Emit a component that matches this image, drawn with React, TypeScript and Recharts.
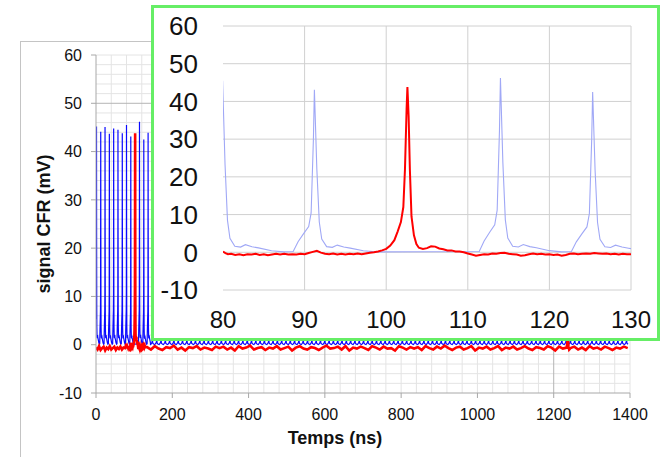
import { LineChart, Line, XAxis, YAxis, CartesianGrid } from "recharts";

type Pt = { t: number; v: number };

// axes
const mainXTicks = [0, 200, 400, 600, 800, 1000, 1200, 1400];
const mainYTicks = [-10, 0, 10, 20, 30, 40, 50, 60];
const insetXTicks = [80, 90, 100, 110, 120, 130];
const insetYTicks = [-10, 0, 10, 20, 30, 40, 50, 60];

// blue trace: the big laser pulses (ns, mV)
const bluePeakTimes = [1.3, 12.4, 23.7, 35.0, 46.3, 57.6, 68.9, 79.95, 91.2, 114.0, 125.3, 136.6];
const bluePeakValues = [45.2, 44.1, 45.1, 43.7, 44.8, 44.5, 43.8, 45.5, 43.1, 46.2, 42.5, 43.9];

// shape of one pulse (for a 43 mV pulse)
const pulseOffsets = [-2.6, -2.0, -1.3, -0.7, -0.4, -0.12, 0, 0.3, 0.6, 0.9, 1.5, 2.2, 2.8, 3.6, 4.4, 6.0, 7.5];
const pulseShape = [0.2, 2.8, 5.0, 6.8, 10.4, 30, 43, 22, 8, 3.5, 1.5, 1.3, 1.9, 1.4, 1.1, 0.4, 0.1];

// small pulses left after 140 ns
const tailPulseTimes = [
  147.9, 159.2, 170.5, 181.8, 193.1, 204.4, 215.7, 227.0, 238.3, 249.6,
  260.9, 272.2, 283.5, 294.8, 306.1, 317.4, 328.7, 340.0, 351.3, 362.6,
  373.9, 385.2, 396.5, 407.8, 419.1, 430.4, 441.7, 453.0, 464.3, 475.6,
  486.9, 498.2, 509.5, 520.8, 532.1, 543.4, 554.7, 566.0, 577.3, 588.6,
  599.9, 611.2, 622.5, 633.8, 645.1, 656.4, 667.7, 679.0, 690.3, 701.6,
  712.9, 724.2, 735.5, 746.8, 758.1, 769.4, 780.7, 792.0, 803.3, 814.6,
  825.9, 837.2, 848.5, 859.8, 871.1, 882.4, 893.7, 905.0, 916.3, 927.6,
  938.9, 950.2, 961.5, 972.8, 984.1, 995.4, 1006.7, 1018.0, 1029.3, 1040.6,
  1051.9, 1063.2, 1074.5, 1085.8, 1097.1, 1108.4, 1119.7, 1131.0, 1142.3, 1153.6,
  1164.9, 1176.2, 1187.5, 1198.8, 1210.1, 1221.4, 1232.7, 1244.0, 1255.3, 1266.6,
  1277.9, 1289.2, 1300.5, 1311.8, 1323.1, 1334.4, 1345.7, 1357.0, 1368.3, 1379.6,
  1390.9,
];
const tailPeak = 1.3;
const tailOffsets = [-5.0, -1.0, 0, 1.0, 4.0];
const tailShape = [0.05, 0.5, 1.3, 0.3, 0.1];

// red trace
const redEarlyStart = 0;
const redEarlyStep = 4;
const redEarlyValues = [
  -0.6, -1.0, -0.3, -1.1, -0.7, -0.4, -1.2, -0.6, -0.9, -0.3,
  -1.0, -0.7, -0.4, -1.1, -0.6, -0.9, -0.4, -1.0, -0.6, -0.7,
];
const redZoomed: [number, number][] = [
  [80.0, 0.2], [80.3, -0.2], [80.6, -0.5], [81.0, -0.4], [81.5, -0.7], [82.0, -0.5], [82.5, -0.8],
  [83.0, -0.5], [83.5, -0.6], [84.0, -0.4], [84.5, -0.7], [85.0, -0.5], [85.5, -0.8], [86.0, -0.6],
  [86.5, -0.4], [87.0, -0.6], [87.5, -0.4], [88.0, -0.6], [88.5, -0.5], [89.0, -0.6], [89.5, -0.4],
  [90.0, -0.5], [90.5, -0.2], [91.0, 0.1], [91.5, 0.4], [92.0, -0.1], [92.5, -0.4], [93.0, -0.5],
  [93.5, -0.3], [94.0, -0.6], [94.5, -0.4], [95.0, -0.6], [95.5, -0.4], [96.0, -0.5], [96.5, -0.3],
  [97.0, -0.5], [97.5, -0.3], [98.0, -0.1], [98.5, 0.0], [99.0, 0.2], [99.5, 0.5], [100.0, 0.9],
  [100.5, 1.8], [101.0, 3.2], [101.4, 5.5], [101.8, 8.0], [102.1, 12], [102.3, 22], [102.5, 38],
  [102.6, 43.8], [102.75, 36], [102.9, 22], [103.1, 9.5], [103.4, 4.5], [103.7, 2.2], [104.0, 1.2],
  [104.5, 0.9], [105.0, 1.1], [105.5, 1.6], [106.0, 1.5], [106.5, 1.0], [107.0, 0.8], [107.5, 0.5],
  [108.0, 0.5], [108.5, 0.2], [109.0, 0.2], [109.5, 0.0], [110.0, -0.3], [110.5, -0.6], [111.0, -0.9],
  [111.5, -0.7], [112.0, -0.5], [112.5, -0.6], [113.0, -0.3], [113.5, -0.4], [114.0, -0.2], [114.5, -0.1],
  [115.0, -0.4], [115.5, -0.5], [116.0, -0.6], [116.5, -0.9], [117.0, -0.8], [117.5, -0.5], [118.0, -0.3],
  [118.5, -0.5], [119.0, -0.4], [119.5, -0.6], [120.0, -0.5], [120.5, -0.7], [121.0, -0.6], [121.5, -0.9],
  [122.0, -0.7], [122.5, -0.4], [123.0, -0.3], [123.5, -0.5], [124.0, -0.4], [124.5, -0.3], [125.0, -0.4],
  [125.5, -0.2], [126.0, -0.3], [126.5, -0.4], [127.0, -0.3], [127.5, -0.5], [128.0, -0.4], [128.5, -0.6],
  [129.0, -0.4], [129.5, -0.5], [130.0, -0.5],
];
const redLateStart = 134;
const redLateStep = 10;
const redLateValues = [
  -0.5, -1.0, -0.3, -0.8, -1.1, -0.5, -0.7, -0.2, -1.0, -0.6,
  -1.2, -0.5, -0.7, -0.3, -1.0, -0.6, -0.8, -1.1, -0.4, -0.7,
  -0.4, -1.0, -0.6, -1.2, -0.3, -0.8, -0.6, -0.2, -1.0, -0.7,
  -0.5, -1.1, -0.6, -0.8, -0.3, -1.0, -0.7, -0.4, -1.2, -0.6,
  -0.3, -0.8, -1.0, -0.5, -0.7, -1.1, -0.6, -0.2, -0.8, -0.7,
  -0.4, -1.0, -0.3, -1.2, -0.6, -0.8, -0.4, -0.7, -1.1, -0.3,
  -0.6, -1.0, -0.4, -0.8, -0.7, -1.2, -0.3, -0.6, -1.0, -0.5,
  -0.8, -0.5, -1.1, -0.3, -0.7, -1.0, -0.4, -0.8, -0.2, -0.7,
  -1.1, -0.6, -0.4, -1.0, -0.7, -0.3, -1.2, -0.6, -0.8, -0.4,
  -1.0, -0.7, -0.3, -1.1, -0.6, -0.8, -0.4, -1.0, -0.7, -0.3,
  -0.8, -1.1, -0.5, -0.7, -1.0, -0.3, -0.6, -1.2, -0.4, -0.8,
  -0.6, -0.7, -0.4, -1.0, -0.6, -1.1, -0.3, -0.8, -0.6, -1.0,
  -0.4, -0.7, -1.1, -0.6, -0.8, -0.4, -0.7,
];
const redBump: [number, number][] = [[1235.5, 0.3], [1237, 1.6], [1238.5, -0.3], [1240.5, -1.0]];

function pulses(times: number[], peaks: number[], offsets: number[], shape: number[]): Pt[] {
  const ref = Math.max(...shape);
  const out: Pt[] = [];
  times.forEach((t0, i) => {
    offsets.forEach((o, j) => out.push({ t: t0 + o, v: (shape[j] * peaks[i]) / ref }));
  });
  return out;
}

const byT = (a: Pt, b: Pt) => a.t - b.t;

const blueData: Pt[] = [
  ...pulses(bluePeakTimes, bluePeakValues, pulseOffsets, pulseShape),
  ...pulses(tailPulseTimes, tailPulseTimes.map(() => tailPeak), tailOffsets, tailShape),
]
  .filter((p) => p.t >= 0 && p.t <= 1400)
  .sort(byT);

const redData: Pt[] = [
  ...redEarlyValues.map((v, i) => ({ t: redEarlyStart + i * redEarlyStep, v })),
  ...redZoomed.map(([t, v]) => ({ t, v })),
  ...redLateValues.map((v, i) => ({ t: redLateStart + i * redLateStep, v })),
  ...redBump.map(([t, v]) => ({ t, v })),
].sort(byT);

const blueInset = blueData.filter((p) => p.t >= 77 && p.t <= 133);
const redInset = redData.filter((p) => p.t >= 77 && p.t <= 133);

const minorX = Array.from({ length: 35 }, (_, i) => 40 + i * 40).filter((x) => x % 600 !== 0);
const minorY = Array.from({ length: 35 }, (_, i) => -8 + i * 2).filter((y) => y % 10 !== 0 || y === 60);

const font = "'Liberation Sans', Arial, sans-serif";

export default function App() {
  return (
    <div
      style={{
        position: "absolute",
        left: 0,
        top: 0,
        width: 660,
        height: 457,
        overflow: "hidden",
        background: "#fff",
        fontFamily: font,
      }}
    >
      {/* frame of the main chart */}
      <div
        style={{
          position: "absolute",
          left: 20,
          top: 41,
          width: 700,
          height: 500,
          border: "1px solid #c4c4c4",
        }}
      />
      <div style={{ position: "absolute", left: 0, top: 0 }}>
        <LineChart width={660} height={457} margin={{ top: 55, right: 30, bottom: 34, left: 36 }}>
          <CartesianGrid
            horizontalValues={minorY}
            verticalValues={minorX}
            stroke="#e4e4e4"
            strokeWidth={1}
          />
          <CartesianGrid
            horizontalValues={[10, 20, 30, 40, 50]}
            verticalValues={[600, 1200]}
            stroke="#b4b4b4"
            strokeWidth={1}
          />
          <XAxis
            type="number"
            dataKey="t"
            domain={[0, 1400]}
            ticks={mainXTicks}
            interval={0}
            allowDataOverflow
            height={30}
            stroke="#a8a8a8"
            tickSize={5}
            tickMargin={11}
            tick={{ fill: "#111", fontSize: 16 }}
          />
          <YAxis
            type="number"
            domain={[-10, 60]}
            ticks={mainYTicks}
            interval={0}
            allowDataOverflow
            width={60}
            stroke="#a8a8a8"
            tickSize={5}
            tickMargin={9}
            tick={{ fill: "#111", fontSize: 16 }}
          />
          <Line
            data={blueData}
            dataKey="v"
            type="linear"
            dot={false}
            stroke="#0a0aff"
            strokeWidth={1.2}
            isAnimationActive={false}
          />
          <Line
            data={redData}
            dataKey="v"
            type="linear"
            dot={false}
            stroke="#ff0000"
            strokeWidth={2.6}
            isAnimationActive={false}
          />
        </LineChart>
      </div>
      <div
        style={{
          position: "absolute",
          left: 20,
          top: 438 - 11,
          width: 630,
          textAlign: "center",
          fontWeight: "bold",
          fontSize: 18,
          lineHeight: "22px",
          color: "#111",
        }}
      >
        Temps (ns)
      </div>
      <div
        style={{
          position: "absolute",
          left: 44 - 150,
          top: 224 - 11,
          width: 300,
          textAlign: "center",
          fontWeight: "bold",
          fontSize: 18,
          lineHeight: "22px",
          color: "#111",
          transform: "rotate(-90deg)",
        }}
      >
        signal CFR (mV)
      </div>

      {/* zoomed inset */}
      <div
        style={{
          position: "absolute",
          left: 151,
          top: 5,
          width: 509,
          height: 336,
          boxSizing: "border-box",
          border: "3px solid #66ee66",
          background: "#fff",
        }}
      >
        <LineChart width={503} height={330} margin={{ top: 18, right: 26, bottom: 0, left: 9 }}>
          <CartesianGrid
            horizontalValues={insetYTicks}
            verticalValues={[90, 100, 110, 120, 130]}
            stroke="#d0d0d0"
            strokeWidth={1}
          />
          <XAxis
            type="number"
            dataKey="t"
            domain={[80, 130]}
            ticks={insetXTicks}
            interval={0}
            allowDataOverflow
            height={48}
            axisLine={false}
            tickLine={false}
            tickSize={0}
            tickMargin={21}
            tick={{ fill: "#111", fontSize: 24 }}
          />
          <YAxis
            type="number"
            domain={[-10, 60]}
            ticks={insetYTicks}
            interval={0}
            allowDataOverflow
            width={60}
            axisLine={false}
            tickLine={false}
            tickSize={0}
            tickMargin={25}
            tick={{ fill: "#111", fontSize: 26 }}
          />
          <Line
            data={blueInset}
            dataKey="v"
            type="linear"
            dot={false}
            stroke="#a0a8f6"
            strokeWidth={1.1}
            isAnimationActive={false}
          />
          <Line
            data={redInset}
            dataKey="v"
            type="linear"
            dot={false}
            stroke="#ff0000"
            strokeWidth={2}
            isAnimationActive={false}
          />
        </LineChart>
      </div>
    </div>
  );
}
